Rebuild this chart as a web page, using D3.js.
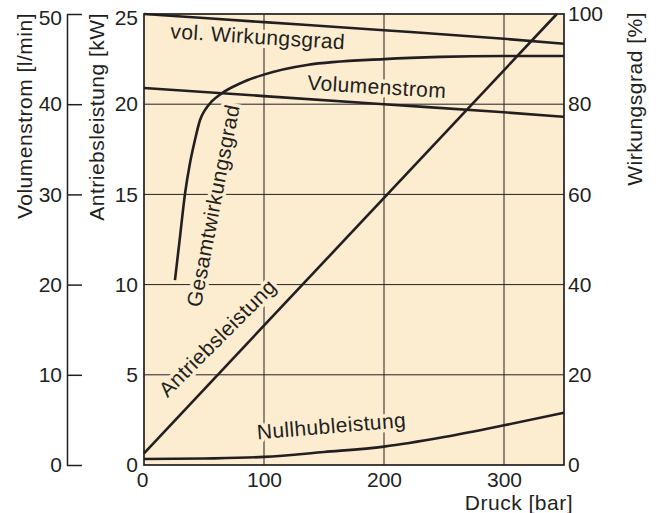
<!DOCTYPE html>
<meta charset="utf-8">
<title>Kennlinien Pumpe</title>
<style>
    body {
        margin: 0;
        background: #fff;
    }
    text {
        font-family: "Liberation Sans", Arial, sans-serif;
        fill: #231f20;
    }
</style>

<body>
    <script src="https://d3js.org/d3.v7.min.js"></script>
    <script>
        /* Data (Druck in bar) */
        var volWirkungsgrad = [[0, 100], [100, 98.2], [200, 96.4], [300, 94.5], [350, 93.4]];          // %
        var volumenstrom = [[0, 41.8], [100, 40.9], [200, 40.0], [300, 39.1], [350, 38.6]];             // l/min
        var gesamtWirkungsgrad = [[25.8, 41.0], [30, 50.6], [34.2, 60.2], [38.3, 66.9], [42.5, 72.1],
            [46.7, 76.5], [50.8, 78.7], [56.4, 80.6], [64.7, 82.4], [80, 84.6], [99.2, 86.5],
            [135.8, 88.7], [200, 90.0], [246.7, 90.5], [300, 90.7], [350, 90.7]];                     // %
        var antriebsleistung = [[0, 0.65], [344, 25]];                                                   // kW
        var nullhubleistung = [[0, 0.33], [50, 0.36], [100, 0.45], [150, 0.72], [200, 1.02],
            [250, 1.55], [300, 2.2], [350, 2.9]];                                                        // kW

        var druckTicks = [0, 100, 200, 300];
        var leistungTicks = [0, 5, 10, 15, 20, 25];
        var stromTicks = [0, 10, 20, 30, 40, 50];
        var wirkTicks = [0, 20, 40, 60, 80, 100];

        /* Layout (plot area in px) */
        var width = 656, height = 513;
        var pLeft = 144, pRight = 564, pTop = 14, pBottom = 465;
        var bg = "#fdedd0", ink = "#231f20";

        var svg = d3.select("body").append("svg")
            .attr("width", width)
            .attr("height", height);

        var x = d3.scaleLinear().domain([0, 350]).range([pLeft, pRight]);
        var yKW = d3.scaleLinear().domain([0, 25]).range([pBottom, pTop]);
        var yQ = d3.scaleLinear().domain([0, 50]).range([pBottom, pTop]);
        var yEta = d3.scaleLinear().domain([0, 100]).range([pBottom, pTop]);

        // plot background
        svg.append("rect")
            .attr("x", pLeft).attr("y", pTop)
            .attr("width", pRight - pLeft).attr("height", pBottom - pTop)
            .attr("fill", bg);

        // grid
        var grid = svg.append("g").attr("stroke", ink).attr("stroke-width", 1);
        grid.selectAll("line.v")
            .data(druckTicks.filter(d => d > 0))
            .enter().append("line")
            .attr("x1", d => x(d)).attr("x2", d => x(d))
            .attr("y1", pTop).attr("y2", pBottom);
        grid.selectAll("line.h")
            .data(leistungTicks.filter(d => d > 0 && d < 25))
            .enter().append("line")
            .attr("x1", pLeft).attr("x2", pRight)
            .attr("y1", d => yKW(d)).attr("y2", d => yKW(d));

        // curve labels (positions in data coordinates)
        var labels = [
            { t: "vol. Wirkungsgrad", x: x(21.7), y: yEta(94.6), r: 3.6 },
            { t: "Volumenstrom", x: x(135.8), y: yQ(41.6), r: 3.4 },
            { t: "Gesamtwirkungsgrad", x: x(47.2), y: yEta(34.8), r: -79 },
            { t: "Antriebsleistung", x: x(19.5), y: yKW(3.7), r: -45 },
            { t: "Nullhubleistung", x: x(94.5), y: yKW(1.42), r: -4.8 }
        ];

        function drawLabels(halo) {
            var g = svg.append("g");
            g.selectAll("text")
                .data(labels)
                .enter().append("text")
                .attr("transform", d => "translate(" + d.x + "," + d.y + ") rotate(" + d.r + ")")
                .attr("font-size", "21px")
                .attr("letter-spacing", "0.4px")
                .text(d => d.t)
                .each(function () {
                    if (halo) {
                        d3.select(this).style("fill", bg)
                            .attr("stroke", bg)
                            .attr("stroke-width", 7)
                            .attr("stroke-linejoin", "round");
                    }
                });
        }
        drawLabels(true);

        // frame
        svg.append("rect")
            .attr("x", pLeft).attr("y", pTop)
            .attr("width", pRight - pLeft).attr("height", pBottom - pTop)
            .attr("fill", "none")
            .attr("stroke", ink)
            .attr("stroke-width", 1.7);

        // curves
        function drawCurve(data, yScale, curve) {
            var line = d3.line()
                .x(d => x(d[0]))
                .y(d => yScale(d[1]))
                .curve(curve || d3.curveLinear);
            svg.append("path")
                .datum(data)
                .attr("d", line)
                .attr("fill", "none")
                .attr("stroke", ink)
                .attr("stroke-width", 2.6);
        }
        drawCurve(volWirkungsgrad, yEta, d3.curveMonotoneX);
        drawCurve(volumenstrom, yQ, d3.curveMonotoneX);
        drawCurve(gesamtWirkungsgrad, yEta, d3.curveMonotoneX);
        drawCurve(antriebsleistung, yKW);
        drawCurve(nullhubleistung, yKW, d3.curveMonotoneX);

        drawLabels(false);

        // axes
        function styleAxis(g) {
            g.selectAll("text")
                .attr("font-size", "21px")
                .attr("font-family", "Liberation Sans, Arial, sans-serif")
                .style("fill", ink);
            g.selectAll("line, path").attr("stroke", ink);
        }

        var qAxis = svg.append("g")
            .attr("transform", "translate(67,0)")
            .call(d3.axisLeft(yQ).tickValues(stromTicks).tickSizeInner(-15).tickSizeOuter(0).tickPadding(5))
            .call(styleAxis);
        qAxis.select(".domain").attr("stroke-width", 1.5);
        qAxis.selectAll(".tick line").attr("stroke-width", 1.5);
        qAxis.selectAll(".tick text").filter(d => d === 50).attr("dy", "0.52em");

        var kwAxis = svg.append("g")
            .attr("transform", "translate(" + pLeft + ",0)")
            .call(d3.axisLeft(yKW).tickValues(leistungTicks).tickSize(0).tickPadding(6))
            .call(styleAxis);
        kwAxis.select(".domain").remove();
        kwAxis.selectAll(".tick text").filter(d => d === 25).attr("dy", "0.52em");

        var etaAxis = svg.append("g")
            .attr("transform", "translate(" + pRight + ",0)")
            .call(d3.axisRight(yEta).tickValues(wirkTicks).tickSize(0).tickPadding(4))
            .call(styleAxis);
        etaAxis.select(".domain").remove();

        var pAxis = svg.append("g")
            .attr("transform", "translate(0," + pBottom + ")")
            .call(d3.axisBottom(x).tickValues(druckTicks).tickSize(0).tickPadding(7))
            .call(styleAxis);
        pAxis.select(".domain").remove();
        pAxis.selectAll(".tick text").filter(d => d === 0).attr("dx", "-2px");

        // axis titles
        function title(txt, tx, ty, rot, anchor) {
            svg.append("text")
                .attr("transform", "translate(" + tx + "," + ty + ")" + (rot ? " rotate(" + rot + ")" : ""))
                .attr("text-anchor", anchor)
                .attr("font-size", "21px")
                .attr("letter-spacing", "0.5px")
                .text(txt);
        }
        title("Volumenstrom [l/min]", 32, 13, -90, "end");
        title("Antriebsleistung [kW]", 104, 13, -90, "end");
        title("Wirkungsgrad [%]", 642, 12, -90, "end");
        title("Druck [bar]", 573, 510, 0, "end");
    </script>
</body>
